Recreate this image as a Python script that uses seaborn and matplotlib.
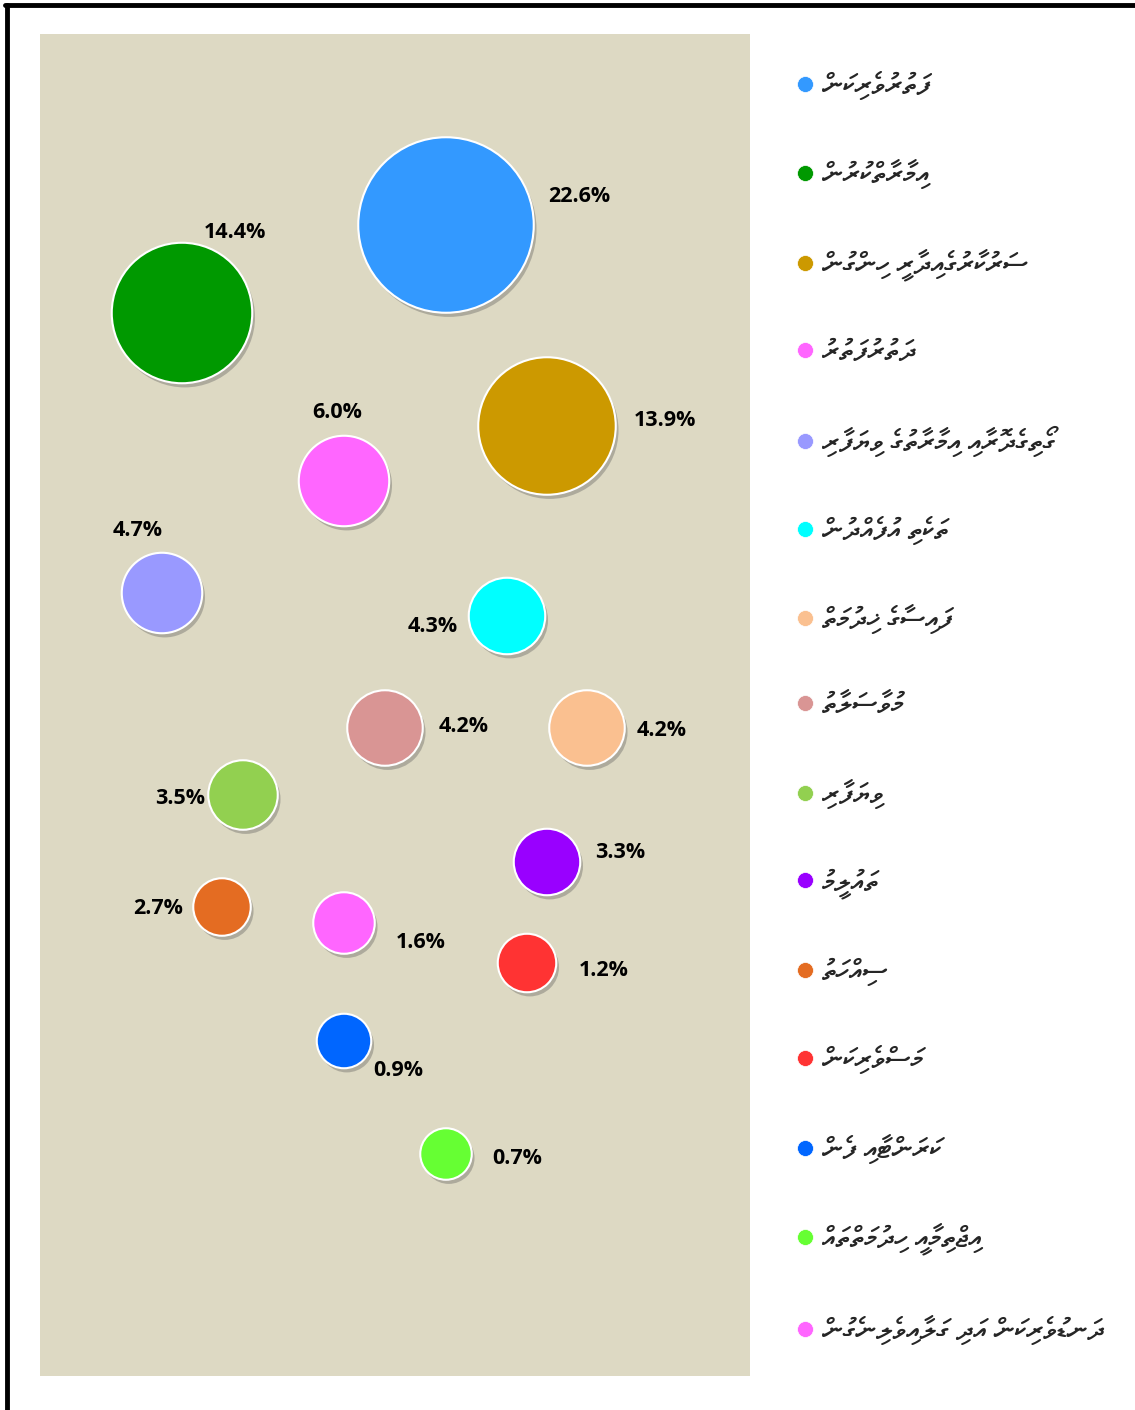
import matplotlib
matplotlib.use('Agg')
import matplotlib.pyplot as plt
import matplotlib.patheffects as pe
from matplotlib.lines import Line2D
from matplotlib import font_manager
import seaborn as sns
import pandas as pd

# Data
sectors = ['ފަތުރުވެރިކަން', 'އިމާރާތްކުރުން', 'ސަރުކާރުގެއިދާރީ ހިންގުން', 'ދަތުރުފަތުރު',
           'ގޯތިގެދޮރާއި އިމާރާތުގެ ވިޔަފާރި', 'ތަކެތި އުފެއްދުން', 'ފައިސާގެ ޚިދުމަތް',
           'މުވާސަލާތު', 'ވިޔަފާރި', 'ތައުލީމު', 'ސިއްހަތު', 'މަސްވެރިކަން', 'ކަރަންޓާއި ފެން',
           'އިޖްތިމާއީ ހިދުމަތްތައް', 'ދަނޑުވެރިކަން އަދި ގަލާއިވެލިނެގުން']
share = [22.6, 14.4, 13.9, 6.0, 4.7, 4.3, 4.2, 4.2, 3.5, 3.3, 2.7, 1.2, 0.9, 0.7, 1.6]
pos_x = [446, 182, 547, 344, 162, 507, 587, 385, 243, 547, 222, 527, 344, 446, 344]
pos_y = [225, 313, 426, 481, 593, 616, 728, 728, 795, 862, 907, 963, 1041, 1154, 923]
colors = ['#3399FF', '#009900', '#CC9900', '#FF66FF', '#9999FF', '#00FFFF', '#FAC090',
          '#D99594', '#92D050', '#9900FF', '#E46C22', '#FF3333', '#0066FF', '#66FF33', '#FF66FF']

# bubble diameters as drawn (pixels) for each share value
bubble_px = {22.6: 177, 14.4: 142, 13.9: 139, 6.0: 92, 4.7: 82, 4.3: 78, 4.2: 77, 3.5: 71,
             3.3: 68, 2.7: 59, 1.6: 63, 1.2: 60, 0.9: 56, 0.7: 53}

# label offsets from bubble centre (pixels)
label_dx = [133, 53, 118, -7, -24, -74, 75, 79, -63, 73, -64, 77, 54, 71, 77]
label_dy = [28, 80, 5, 68, 62, -11, -3, 2, -4, 10, -1, -8, -30, -5, -19]

df = pd.DataFrame({'sector': sectors, 'share': share, 'x': pos_x, 'y': pos_y})


# Look for an installed font with Thaana letters (FreeSerif Bold looks closest)
def thaana_font():
    fonts = font_manager.findSystemFonts()
    for f in fonts:
        if f.endswith('FreeSerifBold.ttf'):
            return f
    try:
        from fontTools.ttLib import TTFont
    except Exception:
        return None
    for f in fonts:
        if 'unifont' in f.lower():
            continue
        try:
            cmap = TTFont(f, fontNumber=0, lazy=True).getBestCmap()
            if cmap and 0x0786 in cmap:
                return f
        except Exception:
            pass
    return None


# matplotlib has no right-to-left layout: reverse the string so it reads
# right to left; the vowel signs then come just before the letter they sit on
def rtl(text):
    return text[::-1]


sns.set_theme(style='white')
plt.rcParams['font.family'] = ['DejaVu Sans']
tf = thaana_font()
leg_fs = 20.5
if tf:
    leg_prop = font_manager.FontProperties(fname=tf, size=leg_fs)
else:
    leg_prop = font_manager.FontProperties(family='DejaVu Sans', size=leg_fs)

W, H = 1135, 1410
fig = plt.figure(figsize=(W / 100, H / 100), dpi=100)
fig.patch.set_facecolor('white')
ax = fig.add_axes([40 / W, 1 - 1376 / H, 710 / W, 1342 / H])
ax.set_facecolor('#DDD9C3')

palette = dict(zip(sectors, colors))
size_map = {v: ((d - 1.5) * 0.72) ** 2 for v, d in bubble_px.items()}
sns.scatterplot(data=df, x='x', y='y', hue='sector', palette=palette, size='share',
                sizes=size_map, edgecolor='white', linewidth=1.5, alpha=1,
                legend=False, ax=ax, zorder=3)
for coll in ax.collections:
    coll.set_path_effects([pe.SimplePatchShadow(offset=(2, -3), shadow_rgbFace='#555555', alpha=0.35),
                           pe.Normal()])

# Percentage labels
for i in range(len(share)):
    ax.annotate(f'{share[i]:.1f}%', xy=(pos_x[i], pos_y[i]), xytext=(label_dx[i], label_dy[i]),
                textcoords='offset pixels', ha='center', va='center', fontsize=15.5,
                fontweight='bold', family=['Open Sans', 'DejaVu Sans'], color='black', zorder=4)

ax.set_xlim(40, 750)
ax.set_ylim(1376, 34)
ax.set_xticks([])
ax.set_yticks([])
ax.set_xlabel('')
ax.set_ylabel('')
for s in ax.spines.values():
    s.set_visible(False)

# Legend, then nudge spacing / position so rows sit where the reference has them
handles = [Line2D([0], [0], marker='o', linestyle='', markersize=11.5, markerfacecolor=c,
                  markeredgecolor='white', markeredgewidth=0.5) for c in colors]
labels = [rtl(s) for s in sectors]
fs_px = leg_fs * 100 / 72
ls, pad = 2.2, 0.25
anchor = [790 / W, 1 - 62 / H]
for it in range(4):
    leg = fig.legend(handles, labels, loc='upper left', bbox_to_anchor=tuple(anchor), prop=leg_prop,
                     frameon=False, handlelength=0.8, handletextpad=pad, labelspacing=ls,
                     borderaxespad=0, borderpad=0)
    fig.canvas.draw()
    r = fig.canvas.get_renderer()
    m0 = leg.legend_handles[0].get_window_extent(r)
    m1 = leg.legend_handles[-1].get_window_extent(r)
    t0 = leg.get_texts()[0].get_window_extent(r)
    pitch = ((m0.y0 + m0.y1) / 2 - (m1.y0 + m1.y1) / 2) / (len(colors) - 1)
    cx = (m0.x0 + m0.x1) / 2
    cy = H - (m0.y0 + m0.y1) / 2
    if it < 3:
        ls += (88.9 - pitch) / fs_px
        pad += (cx + 17 - t0.x0) / fs_px
        anchor[0] += (805 - cx) / W
        anchor[1] -= (84 - cy) / H
        leg.remove()

# Frame lines
fig.add_artist(Line2D([7 / W, 7 / W], [0, 1 - 5 / H], color='black', linewidth=3.5, transform=fig.transFigure))
fig.add_artist(Line2D([5 / W, 1], [1 - 5 / H, 1 - 5 / H], color='black', linewidth=3.5, transform=fig.transFigure))

fig.savefig('out.png', dpi=100)
